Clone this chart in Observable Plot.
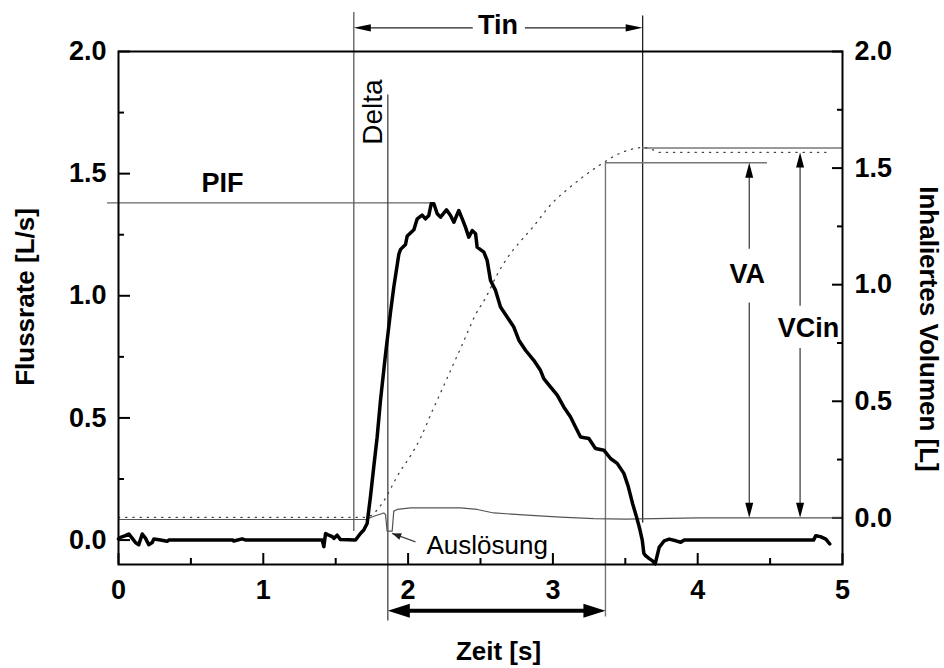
<!DOCTYPE html>
<html>
<head>
<meta charset="utf-8">
<script src="https://cdn.jsdelivr.net/npm/d3@7"></script>
<script src="https://cdn.jsdelivr.net/npm/@observablehq/plot@0.6"></script>
<style>
  body { margin: 0; background: #fff; }
</style>
</head>
<body>
<div id="chart"></div>
<script>
// ---- axis ticks ----
const timeTicks = [0, 1, 2, 3, 4, 5];
const timeMinorTicks = [0.5, 1.5, 2.5, 3.5, 4.5];
const flowTicks = [0, 0.5, 1, 1.5, 2];
const flowMinorTicks = [0.25, 0.75, 1.25, 1.75];
const volumeTicks = [0, 0.5, 1, 1.5, 2];
const volumeMinorTicks = [0.25, 0.75, 1.25, 1.75];

// ---- inspiratory flow [L/s] over time [s] ----
const flowTime = [
  0.000, 0.014, 0.048, 0.071, 0.094, 0.117, 0.140, 0.164, 0.186, 0.209, 0.233, 0.244,
  0.290, 0.336, 0.347, 0.790, 0.796, 0.854, 0.880, 1.400, 1.407, 1.418, 1.430, 1.452,
  1.476, 1.487, 1.510, 1.533, 1.637, 1.671, 1.694, 1.717, 1.740, 1.763, 1.786, 1.809,
  1.844, 1.878, 1.901, 1.936, 1.948, 1.982, 1.994, 2.040, 2.063, 2.097, 2.120, 2.143,
  2.160, 2.178, 2.201, 2.224, 2.265, 2.293, 2.316, 2.350, 2.374, 2.396, 2.419, 2.443,
  2.466, 2.477, 2.523, 2.546, 2.569, 2.604, 2.638, 2.684, 2.730, 2.765, 2.811, 2.868,
  2.914, 2.937, 2.983, 3.030, 3.075, 3.122, 3.156, 3.191, 3.248, 3.294, 3.352, 3.398,
  3.444, 3.490, 3.520, 3.550, 3.575, 3.600, 3.617, 3.628, 3.640, 3.663, 3.688, 3.706,
  3.734, 3.769, 3.803, 3.849, 3.883, 3.907, 4.800, 4.816, 4.848, 4.885, 4.912
];
const flowRate = [
  0.005, 0.011, 0.018, 0.025, 0.008, -0.010, -0.019, 0.025, 0.008, -0.019, -0.010, 0.004,
  0.000, -0.005, 0.000, 0.000, -0.004, 0.005, 0.000, 0.000, 0.000, -0.027, 0.027, 0.020,
  0.014, 0.007, 0.020, 0.002, 0.000, 0.027, 0.041, 0.068, 0.177, 0.300, 0.420, 0.570,
  0.760, 0.930, 1.035, 1.170, 1.190, 1.210, 1.245, 1.270, 1.315, 1.330, 1.315, 1.329,
  1.377, 1.377, 1.336, 1.322, 1.352, 1.329, 1.301, 1.349, 1.315, 1.281, 1.240, 1.267,
  1.254, 1.199, 1.179, 1.145, 1.063, 1.022, 0.954, 0.913, 0.872, 0.818, 0.777, 0.736,
  0.695, 0.661, 0.627, 0.593, 0.545, 0.504, 0.463, 0.422, 0.416, 0.375, 0.368, 0.334,
  0.314, 0.273, 0.220, 0.150, 0.100, 0.045, 0.000, -0.054, -0.064, -0.075, -0.085, -0.098,
  -0.030, -0.003, 0.004, -0.003, -0.009, 0.000, 0.000, 0.018, 0.014, 0.004, -0.016
];

// ---- inhaled volume [L] (right axis) ----
const volumeTime = [
  0.000, 1.690, 1.750, 1.800, 1.850, 1.900, 1.950, 2.000, 2.086, 2.166, 2.224, 2.281,
  2.327, 2.374, 2.419, 2.466, 2.535, 2.615, 2.684, 2.776, 2.857, 2.995, 3.099, 3.213,
  3.329, 3.444, 3.582, 3.619, 3.688, 3.734, 4.908
];
const volumeValue = [
  0.002, 0.002, 0.012, 0.045, 0.090, 0.150, 0.205, 0.250, 0.343, 0.457, 0.536, 0.615,
  0.679, 0.743, 0.808, 0.872, 0.943, 1.043, 1.114, 1.186, 1.243, 1.350, 1.408, 1.465,
  1.515, 1.558, 1.586, 1.589, 1.579, 1.567, 1.567
];

// ---- trigger signal (right axis units) ----
const signalTime = [
  0.000, 1.710, 1.763, 1.832, 1.844, 1.855, 1.890, 1.901, 1.925, 2.017, 2.362, 2.477,
  2.592, 2.822, 3.052, 3.282, 3.500, 4.000, 5.000
];
const signalValue = [
  -0.007, -0.007, 0.007, 0.021, 0.015, -0.057, -0.057, 0.029, 0.036, 0.043, 0.043, 0.036,
  0.021, 0.012, 0.003, -0.003, -0.005, 0.000, 0.000
];

// ---- characteristic values ----
const tinStart = 1.625;     // start of inhalation [s]
const tinEnd = 3.62;        // end of inhalation [s]
const triggerTime = 1.86;   // Auslösung [s]
const vaTime = 3.363;       // end of aerosol volume [s]
const pifTime = 2.17;       // time of peak flow [s]
const pifValue = 1.38;      // peak inspiratory flow [L/s]
const vaValue = 1.523;      // aerosol volume [L]
const vcinValue = 1.586;    // inhaled volume level [L]
const volumeFinal = 1.567;  // final inhaled volume [L]

// right axis (volume, -0.2..2.0) mapped onto the flow axis (-0.1..2.0)
const fr = 2.1 / 2.2;
const toLeft = v => -0.1 + (v + 0.2) * fr;
const fromLeft = y => (y + 0.1) / fr - 0.2;

const flow = flowTime.map((t, i) => ({t, q: flowRate[i]}));
const volume = volumeTime.map((t, i) => ({t, y: toLeft(volumeValue[i])}));
const signal = signalTime.map((t, i) => ({t, y: toLeft(signalValue[i])}));

// filled, elongated arrowhead; tip at the origin, pointing up
function arrowhead(length, halfWidth) {
  return {
    draw(context) {
      context.moveTo(0, 0);
      context.lineTo(halfWidth, length);
      context.lineTo(-halfWidth, length);
      context.closePath();
    }
  };
}
const headTin = arrowhead(17, 3.6);
const headSpan = arrowhead(22, 7);
const headVol = arrowhead(15, 4);
const headSmall = arrowhead(9, 3.5);

const f1 = d3.format(".1f");
const tinY = 2.097;
const spanY = -0.289;

const chart = Plot.plot({
  width: 944,
  height: 668,
  marginLeft: 118,
  marginRight: 102,
  marginTop: 51,
  marginBottom: 104,
  style: {
    fontFamily: "'Liberation Sans', Arial, Helvetica, sans-serif",
    fontSize: "26px",
    fontWeight: "bold",
    color: "black",
    background: "white",
    overflow: "visible"
  },
  x: {domain: [0, 5], label: null},
  y: {domain: [-0.1, 2.0], label: null},
  marks: [
    // ticks pointing into the frame
    Plot.axisX(timeTicks, {anchor: "bottom", tickSize: 11, dy: -11, fill: "none", strokeWidth: 2, label: null}),
    Plot.axisX(timeMinorTicks, {anchor: "bottom", tickSize: 6, dy: -6, fill: "none", strokeWidth: 2, label: null}),
    Plot.axisX(timeTicks, {anchor: "bottom", tickSize: 0, tickPadding: 15, tickFormat: d3.format("d"), label: null, fontSize: 27}),
    Plot.axisY(flowTicks, {anchor: "left", tickSize: 12, dx: 12, fill: "none", strokeWidth: 2, label: null}),
    Plot.axisY(flowMinorTicks, {anchor: "left", tickSize: 6, dx: 6, fill: "none", strokeWidth: 2, label: null}),
    Plot.axisY(flowTicks, {anchor: "left", tickSize: 0, tickPadding: 12, tickFormat: f1, label: null, fontSize: 27}),
    Plot.axisY(volumeTicks.map(toLeft), {anchor: "right", tickSize: 11, dx: -11, fill: "none", strokeWidth: 2, label: null}),
    Plot.axisY(volumeMinorTicks.map(toLeft), {anchor: "right", tickSize: 6, dx: -6, fill: "none", strokeWidth: 2, label: null}),
    Plot.axisY(volumeTicks.map(toLeft), {anchor: "right", tickSize: 0, tickPadding: 12, tickFormat: d => f1(fromLeft(d)), label: null, fontSize: 27}),

    // axis titles
    Plot.text(["Flussrate [L/s]"], {frameAnchor: "left", textAnchor: "middle", rotate: -90, dx: -93, dy: -11}),
    Plot.text(["Inhaliertes Volumen [L]"], {frameAnchor: "right", textAnchor: "middle", rotate: 90, dx: 86, dy: 21}),
    Plot.text(["Zeit [s]"], {frameAnchor: "bottom", textAnchor: "middle", lineAnchor: "bottom", dx: 18, dy: 95}),

    // guide lines
    Plot.ruleY([pifValue], {x1: -0.076, x2: pifTime, stroke: "#666", strokeWidth: 1.3}),
    Plot.ruleX([tinStart], {y1: 2.16, y2: 0.035, stroke: "#666", strokeWidth: 1.4}),
    Plot.ruleX([tinEnd], {y1: 2.145, y2: 0.07, stroke: "#111", strokeWidth: 1.2}),
    Plot.ruleX([triggerTime], {y1: 1.822, y2: -0.331, stroke: "#444", strokeWidth: 1.3}),
    Plot.ruleX([vaTime], {y1: toLeft(vaValue), y2: -0.315, stroke: "#777", strokeWidth: 1.4}),
    Plot.ruleY([toLeft(vaValue)], {x1: vaTime, x2: 4.482, stroke: "#777", strokeWidth: 1.4}),
    Plot.ruleY([toLeft(vcinValue)], {x1: tinEnd, x2: 5, stroke: "#777", strokeWidth: 1.4}),

    // Tin span arrow
    Plot.ruleY([tinY], {x1: tinStart, x2: 2.45, insetLeft: 8, stroke: "#222", strokeWidth: 1.2}),
    Plot.ruleY([tinY], {x1: 2.81, x2: tinEnd, insetRight: 8, stroke: "#222", strokeWidth: 1.2}),
    Plot.dot([{t: tinStart, y: tinY}], {x: "t", y: "y", symbol: headTin, rotate: -90, fill: "black", stroke: "none"}),
    Plot.dot([{t: tinEnd, y: tinY}], {x: "t", y: "y", symbol: headTin, rotate: 90, fill: "black", stroke: "none"}),
    Plot.text(["Tin"], {x: 2.62, y: tinY, dy: -2, fontSize: 27}),

    // span from trigger to end of aerosol volume
    Plot.ruleY([spanY], {x1: triggerTime, x2: vaTime, insetLeft: 12, insetRight: 12, stroke: "black", strokeWidth: 4}),
    Plot.dot([{t: triggerTime, y: spanY}], {x: "t", y: "y", symbol: headSpan, rotate: -90, fill: "black", stroke: "none"}),
    Plot.dot([{t: vaTime, y: spanY}], {x: "t", y: "y", symbol: headSpan, rotate: 90, fill: "black", stroke: "none"}),

    // VA and VCin arrows
    Plot.ruleX([4.356], {y1: toLeft(vaValue), y2: toLeft(1.152), insetTop: 6, stroke: "#333", strokeWidth: 1.2}),
    Plot.ruleX([4.356], {y1: toLeft(0.921), y2: toLeft(0), insetBottom: 6, stroke: "#333", strokeWidth: 1.2}),
    Plot.dot([{t: 4.356, y: toLeft(vaValue)}], {x: "t", y: "y", symbol: headVol, rotate: 0, fill: "black", stroke: "none"}),
    Plot.dot([{t: 4.356, y: toLeft(0)}], {x: "t", y: "y", symbol: headVol, rotate: 180, fill: "black", stroke: "none"}),
    Plot.text(["VA"], {x: 4.356, y: toLeft(1.045), dx: -2, fontSize: 27}),
    Plot.ruleX([4.707], {y1: toLeft(volumeFinal), y2: toLeft(0.907), insetTop: 6, stroke: "#333", strokeWidth: 1.2}),
    Plot.ruleX([4.707], {y1: toLeft(0.726), y2: toLeft(0), insetBottom: 6, stroke: "#333", strokeWidth: 1.2}),
    Plot.dot([{t: 4.707, y: toLeft(volumeFinal)}], {x: "t", y: "y", symbol: headVol, rotate: 0, fill: "black", stroke: "none"}),
    Plot.dot([{t: 4.707, y: toLeft(0)}], {x: "t", y: "y", symbol: headVol, rotate: 180, fill: "black", stroke: "none"}),
    Plot.text(["VCin"], {x: 4.765, y: toLeft(0.812), fontSize: 27}),

    // PIF and Delta labels
    Plot.text(["PIF"], {x: 0.718, y: pifValue, lineAnchor: "bottom", dy: -11, fontSize: 27}),
    Plot.text(["Delta"], {x: triggerTime, y: 1.752, rotate: -90, lineAnchor: "bottom", dx: -6, fontWeight: "normal", fontSize: 28}),

    // curves
    Plot.line(signal, {x: "t", y: "y", stroke: "#555", strokeWidth: 1.2}),
    Plot.line(volume, {x: "t", y: "y", stroke: "#444", strokeWidth: 1.3, strokeDasharray: "1.2,6", curve: "monotone-x"}),
    Plot.line(flow, {x: "t", y: "q", stroke: "black", strokeWidth: 3.5, strokeLinejoin: "round"}),

    // Auslösung marker
    Plot.link([{x1: 2.051, y1: -0.007, x2: 1.89, y2: 0.027}], {x1: "x1", y1: "y1", x2: "x2", y2: "y2", stroke: "#444", strokeWidth: 1.3}),
    Plot.dot([{t: 1.89, y: 0.027}], {x: "t", y: "y", symbol: headSmall, rotate: -70, fill: "#222", stroke: "none"}),
    Plot.text(["Auslösung"], {x: 2.127, y: -0.055, lineAnchor: "bottom", textAnchor: "start", fontWeight: "normal"}),

    Plot.frame({strokeWidth: 2})
  ]
});

document.getElementById("chart").appendChild(chart);
</script>
</body>
</html>
